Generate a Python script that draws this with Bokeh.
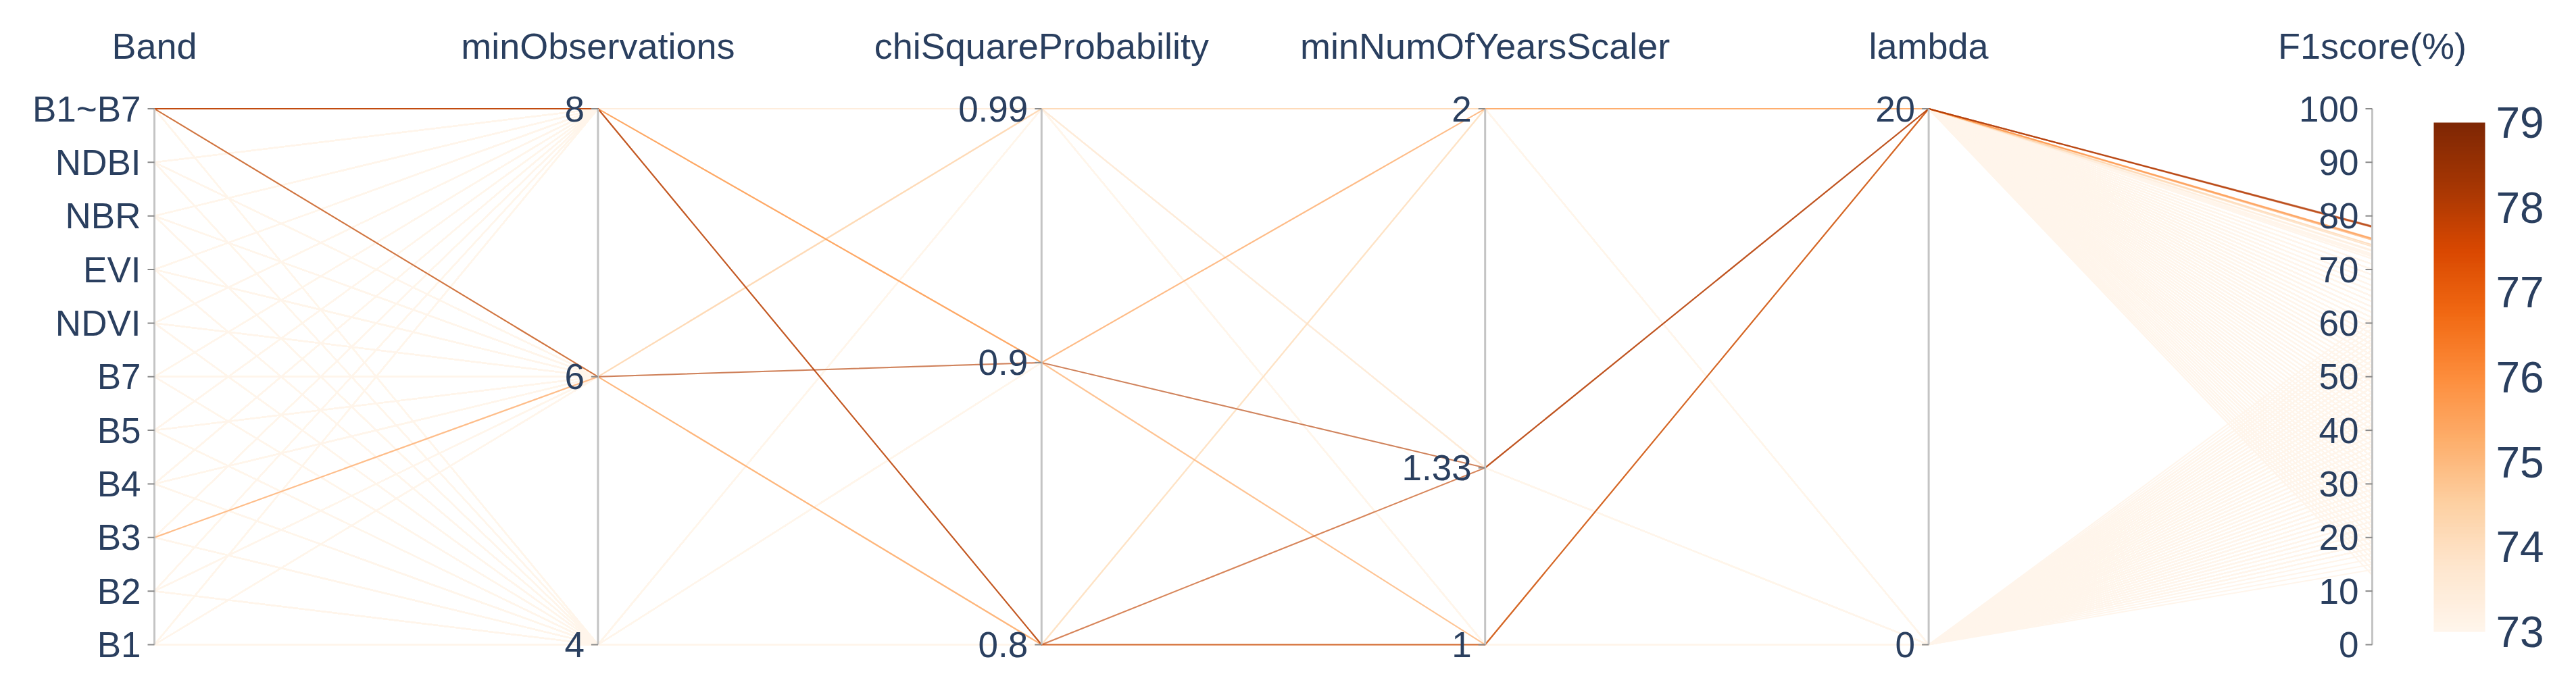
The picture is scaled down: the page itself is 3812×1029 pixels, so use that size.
import itertools
import numpy as np
from bokeh.plotting import figure
from bokeh.models import Range1d, ColumnDataSource, LinearColorMapper
from bokeh.transform import linear_cmap
from bokeh.core.properties import value
from bokeh.palettes import Oranges256
from bokeh.embed import file_html
from bokeh.resources import INLINE

# ---------------- data ----------------
axis_titles = ["Band", "minObservations", "chiSquareProbability",
               "minNumOfYearsScaler", "lambda", "F1score(%)"]
bands = ["B1", "B2", "B3", "B4", "B5", "B7", "NDVI", "EVI", "NBR", "NDBI", "B1~B7"]
min_obs_levels = [4, 6, 8]
chi_levels = [0.8, 0.9, 0.99]
years_levels = [1, 1.33, 2]
lambda_levels = [0, 20]
f1_ticks = [0, 10, 20, 30, 40, 50, 60, 70, 80, 90, 100]
color_ticks = [73, 74, 75, 76, 77, 78, 79]

# F1 per band, order: minObs(4,6,8) x chi(0.8,0.9,0.99) x years(1,1.33,2) x lambda(0,20)
f1_B1 = [17, 14, 19, 17, 20, 18,   16, 13, 18, 16, 19, 17,   14, 13, 15, 14, 18, 15,
         22, 21, 24, 25, 26, 27,   21, 20, 23, 24, 25, 26,   19, 18, 20, 21, 22, 22,
         26, 28, 28, 31, 30, 33,   25, 27, 27, 30, 29, 32,   22, 24, 24, 26, 26, 29]
f1_B2 = [19, 18, 21, 21, 22, 23,   18, 16, 20, 20, 21, 22,   17, 15, 18, 17, 19, 19,
         25, 28, 27, 31, 28, 33,   24, 27, 26, 30, 28, 32,   21, 23, 23, 26, 24, 28,
         29, 35, 31, 38, 32, 40,   28, 34, 30, 37, 32, 39,   25, 30, 27, 33, 28, 36]
f1_B3 = [24, 30, 26, 33, 27, 35,   23, 29, 25, 32, 26, 34,   20, 26, 22, 29, 23, 31,
         31, 75.7, 33, 43, 34, 45, 30, 39, 32, 42, 34, 44,   27, 35, 29, 38, 30, 40,
         35, 46, 37, 49, 38, 51,   34, 45, 36, 48, 38, 50,   31, 41, 33, 44, 34, 46]
f1_B4 = [28, 36, 30, 39, 31, 41,   27, 35, 29, 38, 30, 40,   24, 32, 26, 35, 27, 37,
         34, 44, 36, 47, 37, 49,   33, 43, 35, 46, 37, 48,   30, 40, 32, 43, 33, 45,
         38, 51, 40, 54, 41, 56,   37, 50, 39, 53, 41, 55,   34, 47, 36, 50, 37, 52]
f1_B5 = [36, 49, 38, 52, 39, 54,   35, 48, 37, 51, 38, 53,   32, 45, 34, 48, 35, 50,
         42, 56, 44, 59, 45, 61,   41, 55, 43, 58, 45, 60,   38, 52, 40, 55, 41, 57,
         46, 61, 48, 64, 49, 66,   45, 60, 47, 63, 49, 65,   42, 57, 44, 60, 45, 62]
f1_B7 = [34, 46, 36, 49, 37, 51,   33, 45, 35, 48, 36, 50,   30, 42, 32, 45, 33, 47,
         40, 54, 42, 57, 43, 59,   39, 53, 41, 56, 43, 58,   36, 50, 38, 53, 39, 55,
         44, 59, 46, 62, 47, 64,   43, 58, 45, 61, 47, 63,   40, 55, 42, 58, 43, 60]
f1_NDVI = [41, 55, 43, 57, 44, 59, 40, 54, 42, 56, 43, 58,   37, 51, 39, 53, 40, 55,
           47, 61, 49, 63, 50, 65, 46, 60, 48, 62, 50, 64,   43, 57, 45, 59, 46, 61,
           51, 65, 53, 67, 54, 69, 50, 64, 52, 66, 54, 68,   47, 61, 49, 63, 50, 65]
f1_EVI = [39, 53, 41, 56, 42, 57,  38, 52, 40, 55, 41, 56,   35, 49, 37, 52, 38, 53,
          45, 59, 47, 62, 48, 63,  44, 58, 46, 61, 48, 62,   41, 55, 43, 58, 44, 59,
          49, 63, 51, 66, 52, 67,  48, 62, 50, 65, 52, 66,   45, 59, 47, 62, 48, 63]
f1_NBR = [45, 60, 47, 62, 48, 63,  44, 59, 46, 61, 47, 62,   41, 56, 43, 58, 44, 59,
          51, 65, 53, 67, 54, 68,  50, 64, 52, 66, 54, 68,   47, 61, 49, 63, 50, 64,
          55, 68, 57, 70, 58, 71,  54, 67, 56, 69, 58, 71,   51, 65, 53, 66, 54, 68]
f1_NDBI = [30, 42, 32, 45, 34, 47, 29, 41, 31, 44, 33, 46,   26, 38, 28, 41, 29, 43,
           36, 50, 38, 53, 40, 55, 35, 49, 37, 52, 39, 54,   32, 46, 34, 49, 35, 51,
           40, 56, 42, 59, 44, 61, 39, 55, 41, 58, 43, 60,   36, 52, 38, 55, 39, 57]
f1_B1toB7 = [48, 70, 50, 71, 52, 72,   46, 69, 49, 70, 51, 71,   42, 66, 45, 68, 47, 69,
             55, 72.5, 57, 72.8, 58, 74.3, 54, 72, 56, 78.1, 58, 72.6, 50, 70, 53, 73.4, 55, 74.6,
             57, 78.0, 59, 77.9, 60, 72.9, 56, 75.5, 58, 72.7, 61, 75.8, 52, 71, 55, 73.6, 57, 72.4]

f1_by_band = [f1_B1, f1_B2, f1_B3, f1_B4, f1_B5, f1_B7,
              f1_NDVI, f1_EVI, f1_NBR, f1_NDBI, f1_B1toB7]

# ---------------- build table ----------------
rows = []
for bi, f1_list in enumerate(f1_by_band):
    combos = itertools.product(min_obs_levels, chi_levels, years_levels, lambda_levels)
    for (mo, chi, yr, lam), f1 in zip(combos, f1_list):
        rows.append((bi, mo, chi, yr, lam, f1))
rows.sort(key=lambda r: r[5])

ranges = [(0, len(bands) - 1),
          (min(min_obs_levels), max(min_obs_levels)),
          (min(chi_levels), max(chi_levels)),
          (min(years_levels), max(years_levels)),
          (min(lambda_levels), max(lambda_levels)),
          (f1_ticks[0], f1_ticks[-1])]


def norm(k, v):
    lo, hi = ranges[k]
    return (v - lo) / (hi - lo)


CLO, CHI = color_ticks[0], color_ticks[-1]
xs, ys, f1s, alphas = [], [], [], []
for r in rows:
    xs.append(list(range(6)))
    ys.append([norm(k, r[k]) for k in range(6)])
    f1s.append(r[5])
    alphas.append(1.0 if r[5] < CLO else 0.62)

# ---------------- layout (pixels) ----------------
W, H = 3796, 1013
AX0_PX, AX_STEP_PX = 228.0, 656.4
TOP_PX, BOT_PX = 160.5, 954.0
span = BOT_PX - TOP_PX

x_start = -AX0_PX / AX_STEP_PX
x_end = (W - AX0_PX) / AX_STEP_PX
y_start = (BOT_PX - H) / span
y_end = BOT_PX / span


def ypx(py):
    return (BOT_PX - py) / span


def xpx(px):
    return (px - AX0_PX) / AX_STEP_PX


p = figure(width=W, height=H, x_range=Range1d(x_start, x_end), y_range=Range1d(y_start, y_end),
           x_axis_type=None, y_axis_type=None, toolbar_location=None, output_backend="svg",
           min_border=0, outline_line_color=None, background_fill_color="white",
           border_fill_color="white")
p.min_border_left = p.min_border_right = p.min_border_top = p.min_border_bottom = 0

palette = list(reversed(Oranges256))

src = ColumnDataSource(dict(xs=xs, ys=ys, f1=f1s, a=alphas))
p.multi_line("xs", "ys", source=src, line_width=2, line_alpha="a",
             line_color=linear_cmap("f1", palette, CLO, CHI,
                                    low_color=palette[0], high_color=palette[-1]))

# axes
TEXT = "#2a3f5f"
FONT = value("Liberation Sans")
tick_len = 10.0 / AX_STEP_PX
p.segment(x0=list(range(6)), y0=[0] * 6, x1=list(range(6)), y1=[1] * 6,
          line_color="#c4c4c4", line_width=3)

tick_vals = [
    list(range(len(bands))),
    min_obs_levels, chi_levels, years_levels, lambda_levels, f1_ticks,
]
tick_texts = [
    bands,
    [str(v) for v in min_obs_levels],
    [str(v) for v in chi_levels],
    [str(v) for v in years_levels],
    [str(v) for v in lambda_levels],
    [str(v) for v in f1_ticks],
]
tx, ty, tt = [], [], []
for k in range(6):
    for v, s in zip(tick_vals[k], tick_texts[k]):
        tx.append(k)
        ty.append(norm(k, v))
        tt.append(s)
p.segment(x0=[x - tick_len for x in tx], y0=ty, x1=tx, y1=ty, line_color="#8a8a8a", line_width=2)
p.text(x=tx, y=ty, text=tt, x_offset=-20, text_align="right", text_baseline="middle",
       text_font=FONT, text_font_size="53px", text_color=TEXT)

# titles
p.text(x=list(range(6)), y=[ypx(67)] * 6, text=axis_titles, text_align="center",
       text_baseline="middle", text_font=FONT, text_font_size="54px", text_color=TEXT)

# colorbar
cb_x0, cb_x1 = xpx(3601), xpx(3677)
cb_y0, cb_y1 = ypx(935), ypx(181)
grad = np.linspace(CLO, CHI, 400).reshape(-1, 1)
mapper = LinearColorMapper(palette=palette, low=CLO, high=CHI)
p.image(image=[grad], x=cb_x0, y=cb_y0, dw=cb_x1 - cb_x0, dh=cb_y1 - cb_y0, color_mapper=mapper)
cb_ty = [cb_y0 + (v - CLO) / (CHI - CLO) * (cb_y1 - cb_y0) for v in color_ticks]
p.text(x=[xpx(3693)] * len(color_ticks), y=cb_ty, text=[str(v) for v in color_ticks],
       text_align="left", text_baseline="middle", text_font=FONT, text_font_size="64px",
       text_color=TEXT)

open("out.html", "w").write(file_html(p, INLINE))
